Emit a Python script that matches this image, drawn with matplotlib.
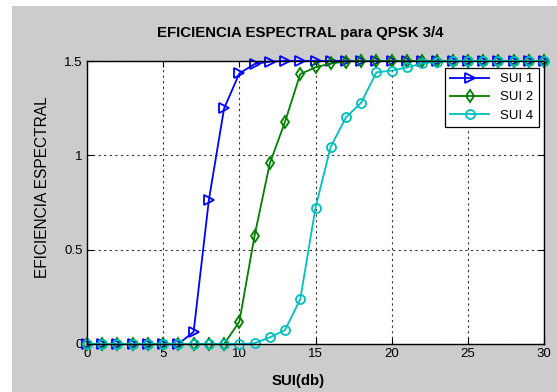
import numpy as np
import matplotlib
matplotlib.use("Agg")
import matplotlib.pyplot as plt
from matplotlib.patches import Rectangle

plt.rcParams['font.family'] = ['Liberation Sans', 'DejaVu Sans']

snr_db = list(range(0, 31))

sui1 = [0, 0, 0, 0, 0, 0, 0, 0.065, 0.763, 1.249, 1.434, 1.484, 1.497] + [1.5] * 18
sui2 = [0, 0, 0, 0, 0, 0, 0, 0, 0, 0, 0.118, 0.574, 0.957, 1.178, 1.431, 1.466,
        1.487, 1.497] + [1.5] * 13
sui4 = [0, 0, 0, 0, 0, 0, 0, 0, 0, 0, 0, 0.004, 0.035, 0.074, 0.237, 0.722,
        1.046, 1.201, 1.279, 1.44, 1.449, 1.466, 1.487, 1.496] + [1.5] * 7

series = [
    ("SUI 1", sui1, (0, 0, 1), ">", 7.5),
    ("SUI 2", sui2, (0, 0.5, 0), "d", 6.5),
    ("SUI 4", sui4, (0, 0.75, 0.75), "o", 6.5),
]

fig = plt.figure(figsize=(5.57, 3.92), dpi=100)
fig.patch.set_facecolor("white")
fig.patches.append(Rectangle((12 / 557, 0), 1, 1 - 6 / 392, transform=fig.transFigure,
                             facecolor="#cccccc", edgecolor="none", zorder=-10))

ax = fig.add_axes([87 / 557, 1 - 344 / 392, 457 / 557, 283 / 392])
ax.set_facecolor("white")

for name, vals, color, mk, ms in series:
    ax.plot(snr_db, vals, color=color, marker=mk, markersize=ms, markerfacecolor="none",
            markeredgecolor=color, markeredgewidth=1.3, linewidth=1.3, label=name,
            clip_on=False)

ax.set_xlim(0, 30)
ax.set_ylim(0, 1.5)
ax.set_xticks([0, 5, 10, 15, 20, 25, 30])
ax.set_yticks([0, 0.5, 1, 1.5])
ax.set_yticklabels(["0", "0.5", "1", "1.5"])
ax.grid(True, color="black", linestyle=(0, (2, 3)), linewidth=0.8, alpha=0.8)
ax.tick_params(direction="in", length=4, labelsize=9.5, pad=3, color="black")
ax.tick_params(top=True, right=True, labeltop=False, labelright=False)
for s in ax.spines.values():
    s.set_linewidth(1.0)

ax.set_title("EFICIENCIA ESPECTRAL para QPSK 3/4", fontsize=10.8, fontweight="bold",
             x=0.467, pad=17)
ax.set_xlabel("SUI(db)", fontsize=10.8, fontweight="bold")
ax.xaxis.set_label_coords(0.462, -0.105)
ax.set_ylabel("EFICIENCIA ESPECTRAL", fontsize=11.2)
ax.yaxis.set_label_coords(-0.082, 0.553)

leg = ax.legend(loc="upper right", bbox_to_anchor=(0.988, 0.976), borderaxespad=0,
                fancybox=False, edgecolor="black", framealpha=1, fontsize=9.5,
                handlelength=3.0, borderpad=0.4, labelspacing=0.45)
leg.get_frame().set_linewidth(0.9)

fig.savefig("out.png", dpi=100)
